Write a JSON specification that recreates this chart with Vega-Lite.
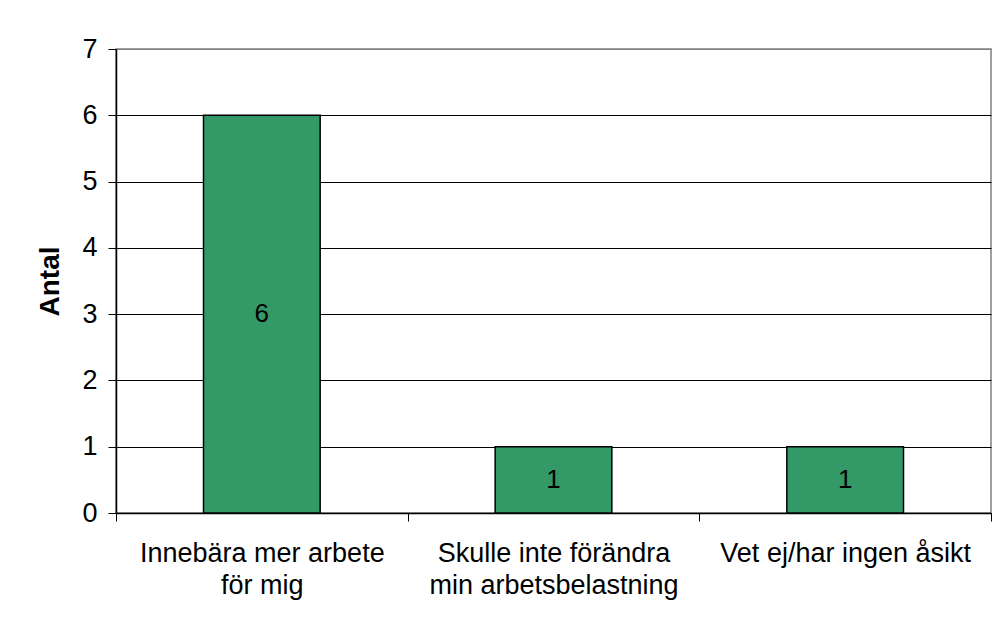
{
  "$schema": "https://vega.github.io/schema/vega-lite/v6.json",
  "width": 875,
  "height": 464,
  "autosize": "none",
  "padding": {"left": 116, "top": 49, "right": 10, "bottom": 117},
  "background": "white",
  "config": {
    "font": "Liberation Sans",
    "view": {"stroke": "#808080", "strokeWidth": 1.5},
    "axis": {"labelFont": "Liberation Sans", "titleFont": "Liberation Sans", "labelColor": "black", "titleColor": "black", "domainColor": "black", "tickColor": "black", "labelLimit": 0}
  },
  "data": {"values": [
    {"kategori": "Innebära mer arbete för mig", "Antal": 6},
    {"kategori": "Skulle inte förändra min arbetsbelastning", "Antal": 1},
    {"kategori": "Vet ej/har ingen åsikt", "Antal": 1}
  ]},
  "encoding": {
    "x": {
      "field": "kategori", "type": "nominal", "sort": null,
      "scale": {"paddingInner": 0, "paddingOuter": 0},
      "axis": {
        "title": null, "labelAngle": 0, "labelFontSize": 27, "labelPadding": 19,
        "labelLineHeight": 32, "tickBand": "extent", "tickSize": 8, "domainWidth": 1.5,
        "labelExpr": "datum.label == 'Innebära mer arbete för mig' ? ['Innebära mer arbete', 'för mig'] : datum.label == 'Skulle inte förändra min arbetsbelastning' ? ['Skulle inte förändra', 'min arbetsbelastning'] : datum.label"
      }
    }
  },
  "layer": [
    {
      "mark": {"type": "bar", "width": {"band": 0.4}, "color": "#339966", "stroke": "black", "strokeWidth": 1.5},
      "encoding": {
        "y": {
          "field": "Antal", "type": "quantitative",
          "scale": {"domain": [0, 7], "nice": false},
          "axis": {
            "values": [0, 1, 2, 3, 4, 5, 6, 7], "title": "Antal", "titleFontSize": 28, "titleFontWeight": "bold",
            "titlePadding": 17, "labelFontSize": 27, "labelPadding": 11, "tickSize": 8, "domainWidth": 1.5,
            "grid": true, "gridWidth": 1,
            "gridColor": {"condition": {"test": "datum.value == 7", "value": "#808080"}, "value": "black"}
          }
        }
      }
    },
    {
      "mark": {"type": "text", "fontSize": 26, "color": "black", "baseline": "middle", "align": "center", "font": "Liberation Sans"},
      "encoding": {
        "y": {"field": "Antal", "type": "quantitative", "scale": {"domain": [0, 14], "nice": false}, "axis": null},
        "text": {"field": "Antal", "type": "quantitative"}
      }
    }
  ],
  "resolve": {"scale": {"y": "independent"}}
}
